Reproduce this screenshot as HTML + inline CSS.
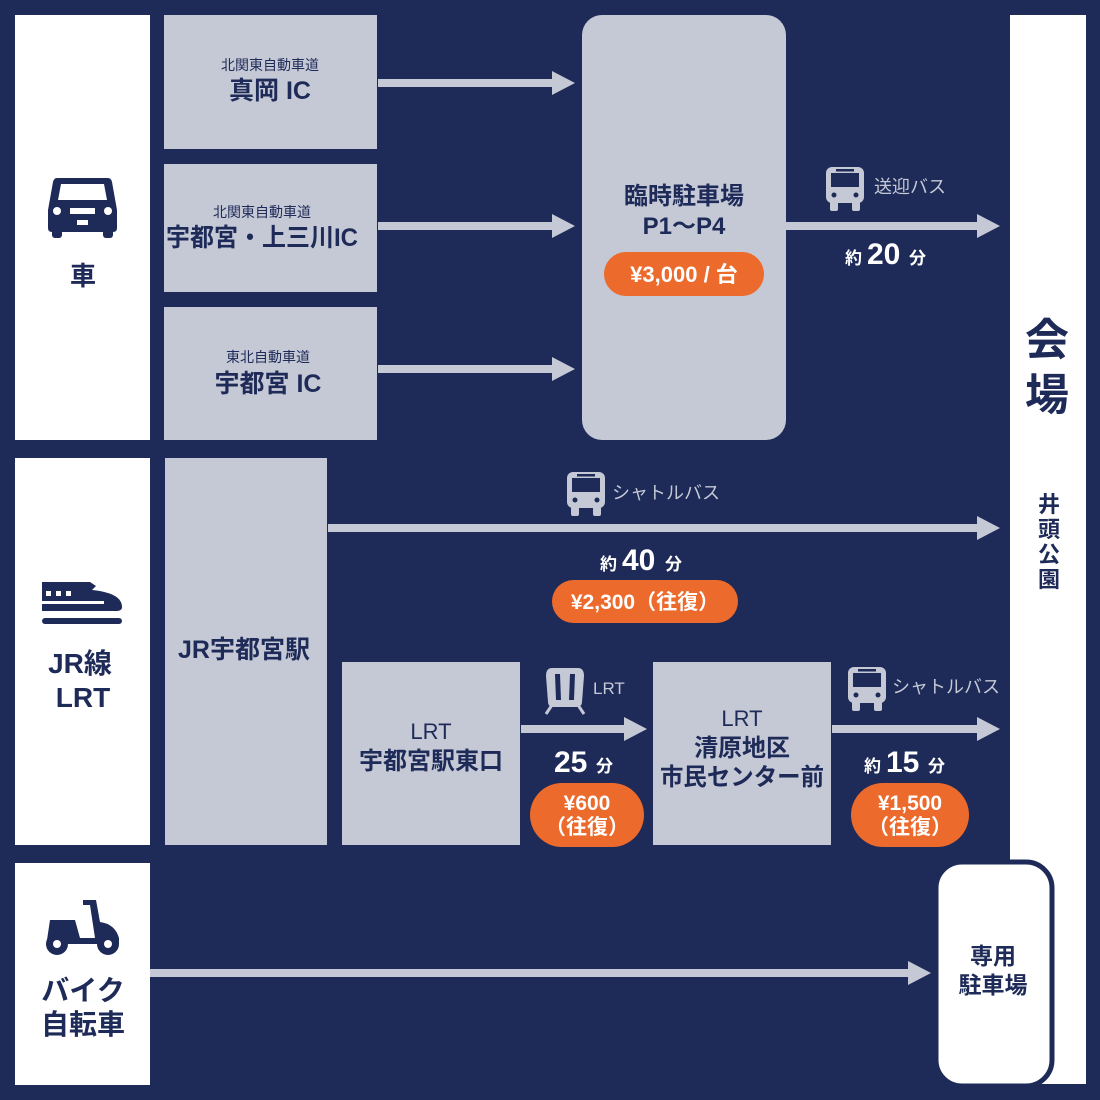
<!DOCTYPE html>
<html><head><meta charset="utf-8"><style>
html,body{margin:0;padding:0;background:#1e2a57;}
svg{display:block}
text{font-family:"Liberation Sans","Noto Sans CJK JP",sans-serif;font-weight:bold;fill:#1e2a57}
.n{font-weight:normal}
.g{fill:#c5c9d6}
.w{fill:#fff}
.o{fill:#ec6a2c}
.wt{fill:#fff}
.lt{fill:#c5c9d6;font-weight:normal}
</style></head><body>
<svg width="1100" height="1100" viewBox="0 0 1100 1100" xmlns="http://www.w3.org/2000/svg">
<defs>
<g id="bus"><rect x="0" y="0" width="38" height="36" rx="6" fill="#c5c9d6"/><rect x="5" y="6" width="28" height="14" fill="#1e2a57"/><rect x="10" y="2" width="18" height="2.5" fill="#1e2a57"/><circle cx="8" cy="28" r="2.5" fill="#1e2a57"/><circle cx="30" cy="28" r="2.5" fill="#1e2a57"/><rect x="4" y="34" width="8" height="10" rx="2" fill="#c5c9d6"/><rect x="26" y="34" width="8" height="10" rx="2" fill="#c5c9d6"/></g>
</defs>
<rect width="1100" height="1100" fill="#1e2a57"/>
<rect class="w" x="15" y="15" width="135" height="425"/>
<rect class="w" x="15" y="458" width="135" height="387"/>
<rect class="w" x="15" y="863" width="135" height="222"/>
<g fill="#1e2a57">
<path d="M57 178 H108 Q111 178 112 182 L117 210 V228 Q117 232 113 232 H52 Q48 232 48 228 V210 L53 182 Q54 178 57 178Z"/>
<rect x="52" y="225" width="10" height="13" rx="3"/><rect x="103" y="225" width="10" height="13" rx="3"/>
</g>
<path d="M61 184 H104 L107 200 H58Z" fill="#fff"/>
<circle cx="57" cy="211" r="4" fill="#fff"/><circle cx="108" cy="211" r="4" fill="#fff"/>
<rect x="70" y="208" width="25" height="6" fill="#fff"/><rect x="77" y="220" width="11" height="5" fill="#fff"/>
<text x="83" y="285" font-size="26" text-anchor="middle">車</text>
<path d="M42 582 H90 L96 586 L92 590 Q122 593 122 607 Q122 611 116 611 H42Z" fill="#1e2a57"/>
<rect x="46" y="591" width="5" height="5" fill="#fff"/><rect x="56" y="591" width="5" height="5" fill="#fff"/><rect x="66" y="591" width="5" height="5" fill="#fff"/>
<rect x="42" y="601" width="62" height="3" fill="#fff"/>
<rect x="42" y="618" width="80" height="6" rx="3" fill="#1e2a57"/>
<text x="80" y="673" font-size="28" text-anchor="middle">JR線</text>
<text x="83" y="707" font-size="28" text-anchor="middle">LRT</text>
<g fill="#1e2a57">
<path d="M50 920 H75 L80 938 H95 L90 905 H83 V900 H96 L100 922 Q115 924 119 938 L119 944 H50 Q47 944 47 940 Z"/>
<circle cx="57" cy="944" r="11"/><circle cx="108" cy="944" r="11"/>
</g>
<circle cx="57" cy="944" r="4" fill="#fff"/><circle cx="108" cy="944" r="4" fill="#fff"/>
<text x="83" y="1000" font-size="28" text-anchor="middle">バイク</text>
<text x="83" y="1034" font-size="28" text-anchor="middle">自転車</text>
<rect class="g" x="164" y="15" width="213" height="134"/>
<rect class="g" x="164" y="164" width="213" height="128"/>
<rect class="g" x="164" y="307" width="213" height="133"/>
<text class="n" x="270" y="70" font-size="14" text-anchor="middle">北関東自動車道</text>
<text x="270" y="99" font-size="25" text-anchor="middle">真岡 IC</text>
<text class="n" x="262" y="217" font-size="14" text-anchor="middle">北関東自動車道</text>
<text x="262" y="246" font-size="25" text-anchor="middle" textLength="192" lengthAdjust="spacingAndGlyphs">宇都宮・上三川IC</text>
<text class="n" x="268" y="362" font-size="14" text-anchor="middle">東北自動車道</text>
<text x="268" y="392" font-size="25" text-anchor="middle">宇都宮 IC</text>
<g class="g">
<rect x="378" y="79" width="178" height="8"/><path d="M552 71 L575 83 L552 95Z"/>
<rect x="378" y="222" width="178" height="8"/><path d="M552 214 L575 226 L552 238Z"/>
<rect x="378" y="365" width="178" height="8"/><path d="M552 357 L575 369 L552 381Z"/>
<rect x="786" y="222" width="195" height="8"/><path d="M977 214 L1000 226 L977 238Z"/>
<rect x="328" y="524" width="653" height="8"/><path d="M977 516 L1000 528 L977 540Z"/>
<rect x="521" y="725" width="106" height="8"/><path d="M624 717 L647 729 L624 741Z"/>
<rect x="832" y="725" width="149" height="8"/><path d="M977 717 L1000 729 L977 741Z"/>
<rect x="150" y="969" width="762" height="8"/><path d="M908 961 L931 973 L908 985Z"/>
</g>
<rect class="g" x="582" y="15" width="204" height="425" rx="20"/>
<text x="684" y="204" font-size="24" text-anchor="middle">臨時駐車場</text>
<text x="684" y="234" font-size="24" text-anchor="middle">P1〜P4</text>
<rect class="o" x="604" y="252" width="160" height="44" rx="22"/>
<text class="wt" x="684" y="282" font-size="22" text-anchor="middle">¥3,000 / 台</text>
<use href="#bus" x="826" y="167"/>
<text class="lt" x="874" y="193" font-size="18">送迎バス</text>
<text class="wt" x="845" y="264" font-size="17">約</text>
<text class="wt" x="867" y="264" font-size="30">20</text>
<text class="wt" x="909" y="264" font-size="17">分</text>
<rect class="g" x="165" y="458" width="162" height="387"/>
<text x="244" y="658" font-size="25" text-anchor="middle">JR宇都宮駅</text>
<use href="#bus" x="567" y="472"/>
<text class="lt" x="612" y="499" font-size="18">シャトルバス</text>
<text class="wt" x="600" y="570" font-size="17">約</text>
<text class="wt" x="622" y="570" font-size="30">40</text>
<text class="wt" x="665" y="570" font-size="17">分</text>
<rect class="o" x="552" y="580" width="186" height="43" rx="21.5"/>
<text class="wt" x="645" y="609" font-size="21" text-anchor="middle">¥2,300（往復）</text>
<rect class="g" x="342" y="662" width="178" height="183"/>
<text class="n" x="431" y="739" font-size="22" text-anchor="middle">LRT</text>
<text x="431" y="769" font-size="24" text-anchor="middle">宇都宮駅東口</text>
<g fill="#c5c9d6"><path d="M552 668 H578 Q584 668 584 676 L582 702 Q582 707 576 707 H554 Q548 707 548 702 L546 676 Q546 668 552 668Z"/><path d="M552 705 L546 714 M578 705 L584 714" stroke="#c5c9d6" stroke-width="3"/></g>
<path d="M555 674 L560 674 L561 700 L556 700Z M575 674 L570 674 L569 700 L574 700Z" fill="#1e2a57"/>
<text class="lt" x="593" y="694" font-size="17">LRT</text>
<text class="wt" x="554" y="772" font-size="30">25</text>
<text class="wt" x="596" y="772" font-size="17">分</text>
<rect class="o" x="530" y="783" width="114" height="64" rx="32"/>
<text class="wt" x="587" y="810" font-size="21" text-anchor="middle">¥600</text>
<text class="wt" x="587" y="834" font-size="21" text-anchor="middle">（往復）</text>
<rect class="g" x="653" y="662" width="178" height="183"/>
<text class="n" x="742" y="726" font-size="22" text-anchor="middle">LRT</text>
<text x="742" y="756" font-size="24" text-anchor="middle">清原地区</text>
<text x="742" y="785" font-size="24" text-anchor="middle" textLength="164" lengthAdjust="spacingAndGlyphs">市民センター前</text>
<use href="#bus" x="848" y="667"/>
<text class="lt" x="892" y="693" font-size="18">シャトルバス</text>
<text class="wt" x="864" y="772" font-size="17">約</text>
<text class="wt" x="886" y="772" font-size="30">15</text>
<text class="wt" x="928" y="772" font-size="17">分</text>
<rect class="o" x="851" y="783" width="118" height="64" rx="32"/>
<text class="wt" x="910" y="810" font-size="21" text-anchor="middle">¥1,500</text>
<text class="wt" x="910" y="834" font-size="21" text-anchor="middle">（往復）</text>
<rect class="w" x="1010" y="15" width="76" height="1069"/>
<text x="1047" y="355" font-size="44" text-anchor="middle">会</text>
<text x="1047" y="410" font-size="44" text-anchor="middle">場</text>
<text x="1049" y="512" font-size="22" text-anchor="middle">井</text>
<text x="1049" y="537" font-size="22" text-anchor="middle">頭</text>
<text x="1049" y="562" font-size="22" text-anchor="middle">公</text>
<text x="1049" y="587" font-size="22" text-anchor="middle">園</text>
<rect x="936" y="862" width="116" height="224" rx="26" fill="#fff" stroke="#1e2a57" stroke-width="5"/>
<text x="993" y="964" font-size="23" text-anchor="middle">専用</text>
<text x="993" y="993" font-size="23" text-anchor="middle">駐車場</text>
</svg>
</body></html>
